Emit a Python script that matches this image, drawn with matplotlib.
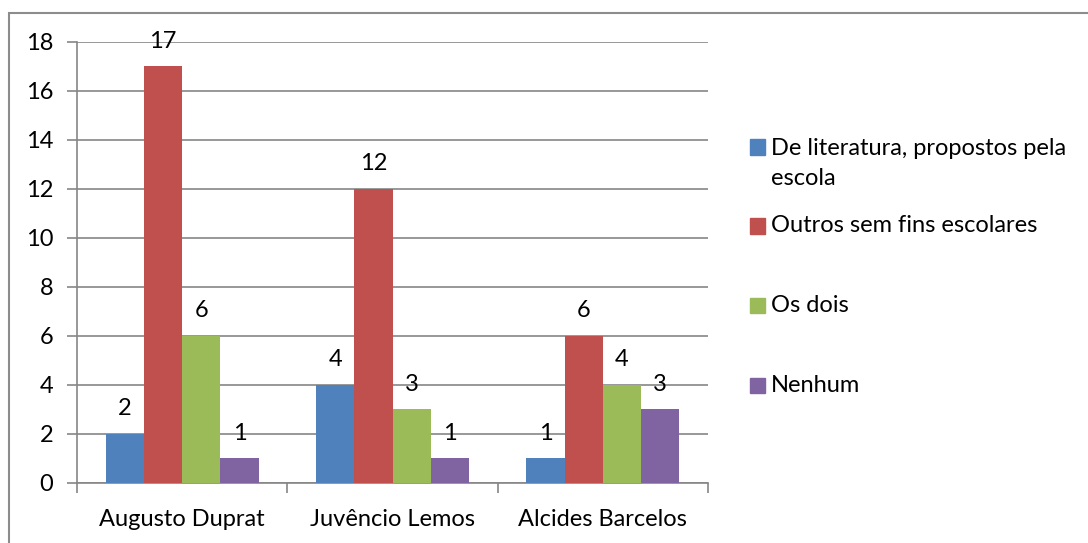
import matplotlib.pyplot as plt
import numpy as np
from matplotlib.patches import Rectangle

# Reading preference per school
schools = ['Augusto Duprat', 'Juvêncio Lemos', 'Alcides Barcelos']
series_names = ['De literatura, propostos pela\nescola', 'Outros sem fins escolares',
                'Os dois', 'Nenhum']
literatura = [2, 4, 1]
outros = [17, 12, 6]
os_dois = [6, 3, 4]
nenhum = [1, 1, 3]
colors = ['#4F81BD', '#C0504D', '#9BBB59', '#8064A2']

plt.rcParams['font.family'] = ['Lato', 'DejaVu Sans']
plt.rcParams['font.size'] = 17

fig = plt.figure(figsize=(10.88, 5.43), dpi=100)
ax = fig.add_axes([0.0708, 0.1105, 0.5800, 0.8122])

x = np.arange(len(schools))
n = 4
bar_w = 1 / (n + 1.5)
all_series = [literatura, outros, os_dois, nenhum]
for i, vals in enumerate(all_series):
    pos = x + (i - (n - 1) / 2) * bar_w
    ax.bar(pos, vals, width=bar_w, color=colors[i], zorder=3)
    for px, v in zip(pos, vals):
        ax.annotate(str(v), (px, v), xytext=(0, 18), textcoords='offset points',
                    ha='center', va='center', fontsize=17)

ax.set_xlim(-0.5, len(schools) - 0.5)
ax.set_ylim(0, 18)
ax.set_yticks(range(0, 19, 2))
ax.set_xticks(x)
ax.set_xticklabels(schools)
ax.set_xticks(np.arange(-0.5, len(schools), 1), minor=True)
ax.tick_params(axis='x', which='major', length=0, pad=19)
ax.tick_params(axis='x', which='minor', length=7, width=1.2, color='#868686', direction='out')
ax.tick_params(axis='y', length=7, width=1.2, color='#868686', direction='out', pad=10)
ax.yaxis.grid(True, color='#868686', linewidth=1.2, zorder=0)
for s in ['top', 'right']:
    ax.spines[s].set_visible(False)
for s in ['left', 'bottom']:
    ax.spines[s].set_color('#868686')
    ax.spines[s].set_linewidth(1.2)

# legend drawn by hand to keep the uneven spacing
square_y = [147, 226, 305, 385]
text_y = [163.5, 226, 305, 385]
for name, c, sy, ty in zip(series_names, colors, square_y, text_y):
    fig.patches.append(Rectangle((750 / 1088, 1 - (sy + 7.5) / 543), 15 / 1088, 15 / 543,
                                 transform=fig.transFigure, color=c))
    fig.text(771 / 1088, 1 - ty / 543, name, ha='left', va='center', fontsize=17,
             linespacing=1.55)

# chart frame
fig.patches.append(Rectangle((9 / 1088, -0.05), 1.2, 1 - 13 / 543 + 0.05,
                             transform=fig.transFigure, fill=False,
                             edgecolor='#8c8c8c', linewidth=1.5))

fig.savefig('out.png', dpi=100)
